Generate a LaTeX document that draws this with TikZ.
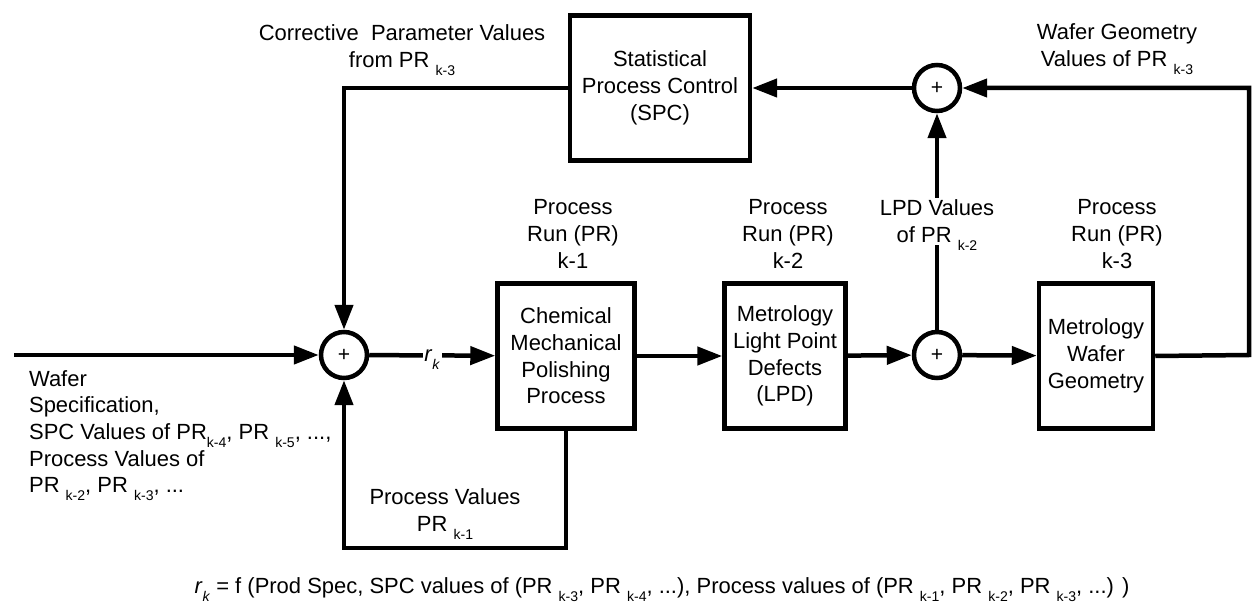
\documentclass[tikz,border=0pt]{standalone}
\usepackage{fontspec}
\setmainfont{Liberation Sans}
\usetikzlibrary{arrows.meta, positioning}
\newcommand{\ksub}[1]{\raisebox{-4.5pt}[0pt][0pt]{\fontsize{8}{8}\selectfont #1}}

\begin{document}
\begin{tikzpicture}[
  x=0.02cm, y=-0.02cm,
  font=\fontsize{12.5}{15.2}\selectfont,
  box/.style={rectangle, draw, line width=0.09cm, align=center, inner sep=2pt},
  sumnode/.style={circle, draw, line width=0.09cm, minimum size=0.92cm, inner sep=0pt,
                  font=\fontsize{12}{12}\selectfont},
  arr/.style={-{Triangle[length=0.5cm, width=0.36cm]}, line width=0.09cm},
  lbl/.style={align=center, inner sep=1pt},
]
\useasboundingbox (0,0) rectangle (1252,608);

% blocks
\node[sumnode] (sumin) at (344,355) {+};
\node[box, minimum width=2.74cm, minimum height=2.9cm] (cmp) at (566,356) {Chemical\\Mechanical\\Polishing\\Process};
\node[box, minimum width=2.42cm, minimum height=2.9cm] (lpd) at (785,356) {Metrology\\Light Point\\Defects\\(LPD)};
\node[sumnode] (sumlpd) at (937,355) {+};
\node[box, minimum width=2.28cm, minimum height=2.9cm] (wgeo) at (1096,356) {Metrology\\Wafer\\Geometry};
\node[box, minimum width=3.6cm, minimum height=2.9cm] (spc) at (660,88) {Statistical\\Process Control\\(SPC)};
\node[sumnode] (sumtop) at (937,88) {+};

\coordinate (in) at (14,355);
\coordinate (spcturn) at (344,88);
\coordinate (rtop) at (1249,88);
\coordinate (rbot) at (1249,355);
\coordinate (fbleft) at (344,548);

% forward path
\draw[arr] (in) -- (sumin);
\draw[arr] (sumin) -- node[fill=white, inner sep=1pt] (rk) {\textit{r}\ksub{\textit{k}}} (cmp);
\draw[arr] (cmp) -- (lpd);
\draw[arr] (lpd) -- (sumlpd);
\draw[arr] (sumlpd) -- (wgeo);

% feedback paths
\draw[arr] (sumlpd) -- node[lbl, fill=white] (lpdv) {LPD Values\\of PR \ksub{k-2}} (sumtop);
\draw[arr] (wgeo.east) -- (rbot) -- (rtop) -- (sumtop);
\draw[arr] (sumtop) -- (spc);
\draw[arr] (spc.west) -- (spcturn) -- (sumin);
\draw[arr] (cmp.south) |- (fbleft) -- (sumin);

% labels
\node[lbl] (corr) at (402,46) {Corrective\ \ Parameter Values\\from PR \ksub{k-3}};
\node[lbl] (wgv) at (1117,45) {Wafer Geometry\\Values of PR \ksub{k-3}};
\node[lbl] (run1) at (573,234) {Process\\Run (PR)\\k-1};
\node[lbl] (run2) at (788,234) {Process\\Run (PR)\\k-2};
\node[lbl] (run3) at (1117,234) {Process\\Run (PR)\\k-3};
\node[lbl, align=left, anchor=west] (spec) at (27,433) {Wafer\\Specification,\\SPC Values of PR\ksub{k-4}, PR \ksub{k-5}, ...,\\Process Values of\\PR \ksub{k-2}, PR \ksub{k-3}, ...};
\node[lbl] (procv) at (445,510) {Process Values\\PR \ksub{k-1}};
\node[lbl] (formula) at (662,588) {\textit{r}\ksub{\textit{k}} = f (Prod Spec, SPC values of (PR \ksub{k-3}, PR \ksub{k-4}, ...), Process values of (PR \ksub{k-1}, PR \ksub{k-2}, PR \ksub{k-3}, ...) )};

\end{tikzpicture}
\end{document}
